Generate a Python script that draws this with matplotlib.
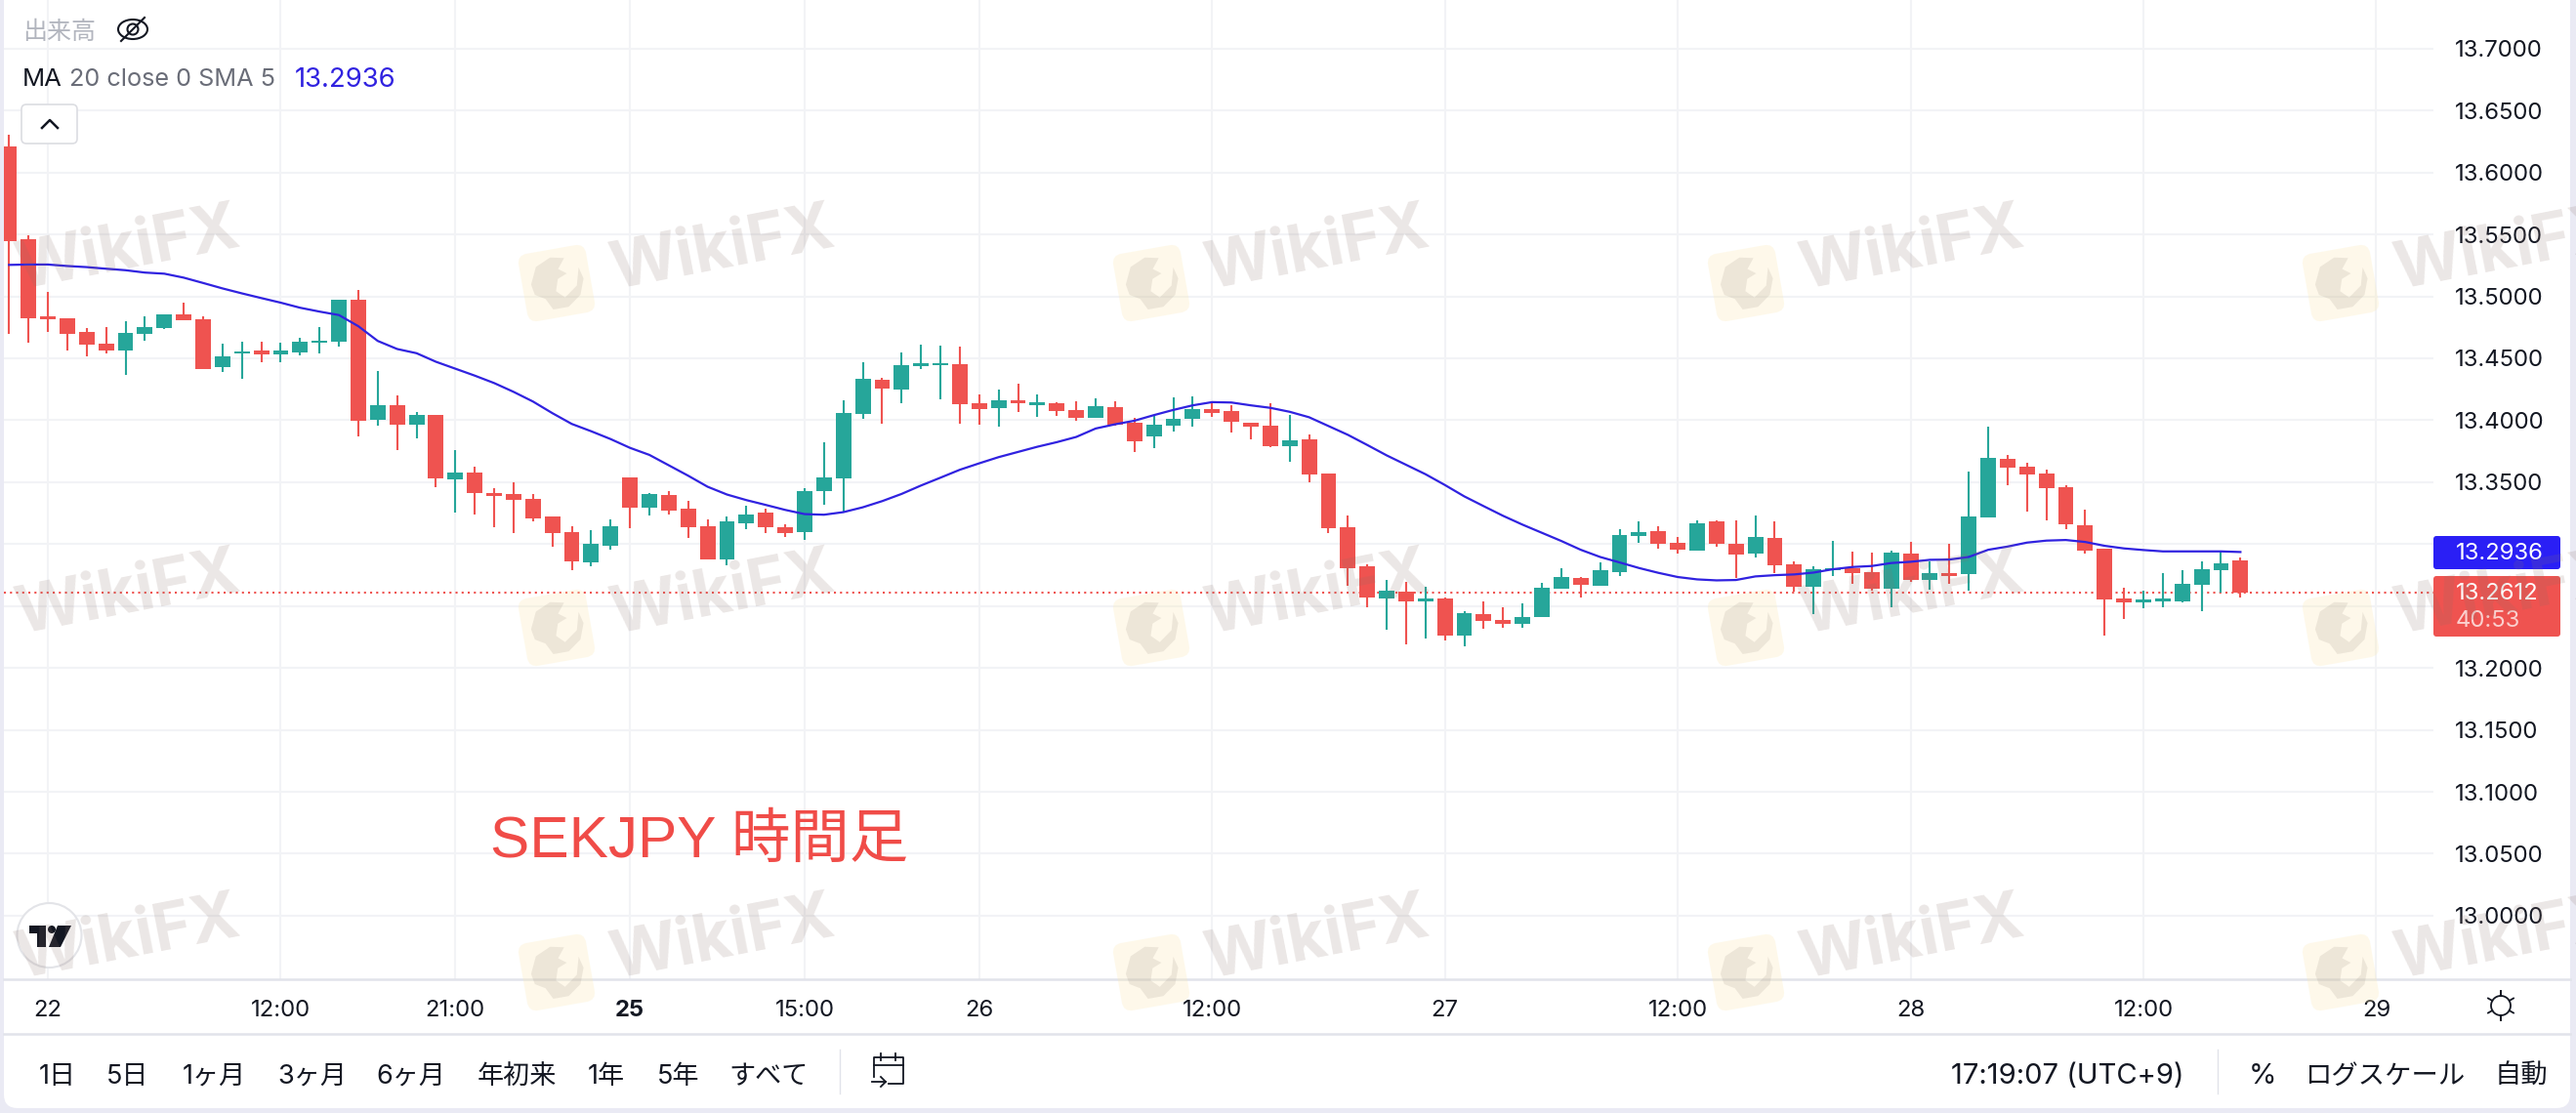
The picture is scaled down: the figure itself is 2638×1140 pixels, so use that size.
import matplotlib
matplotlib.use("Agg")
import matplotlib.pyplot as plt
import numpy as np

from matplotlib.patches import Circle, Ellipse, FancyBboxPatch, Polygon, Rectangle
from matplotlib.transforms import Affine2D

plt.rcParams['font.family'] = ['Inter', 'Noto Sans CJK JP', 'DejaVu Sans']

# Hourly candles, one value per bar
opens = [13.6214, 13.5460, 13.4840, 13.4824, 13.4712, 13.4618, 13.4559, 13.4700, 13.4746, 13.4852,
         13.4815, 13.4425, 13.4537, 13.4559, 13.4531, 13.4547, 13.4628, 13.4634, 13.4974, 13.4004,
         13.4120, 13.3967, 13.4039, 13.3524, 13.3577, 13.3412, 13.3403, 13.3365, 13.3222, 13.3097,
         13.2851, 13.2988, 13.3539, 13.3290, 13.3397, 13.3287, 13.3145, 13.2880, 13.3171, 13.3255,
         13.3137, 13.3100, 13.3424, 13.3534, 13.4054, 13.4325, 13.4251, 13.4440, 13.4448, 13.4453,
         13.4138, 13.4099, 13.4162, 13.4125, 13.4138, 13.4083, 13.4020, 13.4107, 13.3981, 13.3870,
         13.3957, 13.4012, 13.4091, 13.4075, 13.3981, 13.3955, 13.3790, 13.3845, 13.3569, 13.3136,
         13.2820, 13.2560, 13.2615, 13.2537, 13.2560, 13.2261, 13.2434, 13.2387, 13.2355, 13.2410,
         13.2639, 13.2726, 13.2663, 13.2773, 13.3065, 13.3104, 13.3009, 13.2946, 13.3183, 13.3002,
         13.2923, 13.3049, 13.2836, 13.2655, 13.2789, 13.2805, 13.2773, 13.2639, 13.2925, 13.2713,
         13.2768, 13.2760, 13.3217, 13.3690, 13.3627, 13.3572, 13.3461, 13.3154, 13.2965, 13.2563,
         13.2531, 13.2539, 13.2539, 13.2673, 13.2791, 13.2870]
highs = [13.6302, 13.5491, 13.5039, 13.4824, 13.4743, 13.4749, 13.4799, 13.4837, 13.4858, 13.4946,
         13.4837, 13.4618, 13.4637, 13.4637, 13.4622, 13.4665, 13.4749, 13.4974, 13.5055, 13.4400,
         13.4198, 13.4064, 13.4039, 13.3755, 13.3621, 13.3450, 13.3496, 13.3403, 13.3222, 13.3147,
         13.3116, 13.3203, 13.3539, 13.3413, 13.3429, 13.3347, 13.3198, 13.3221, 13.3308, 13.3284,
         13.3158, 13.3452, 13.3820, 13.4162, 13.4469, 13.4341, 13.4548, 13.4611, 13.4603, 13.4595,
         13.4209, 13.4249, 13.4293, 13.4209, 13.4143, 13.4154, 13.4178, 13.4154, 13.4020, 13.4044,
         13.4185, 13.4193, 13.4136, 13.4122, 13.3981, 13.4134, 13.4042, 13.3882, 13.3569, 13.3228,
         13.2836, 13.2710, 13.2694, 13.2655, 13.2568, 13.2458, 13.2537, 13.2489, 13.2521, 13.2686,
         13.2805, 13.2734, 13.2852, 13.3120, 13.3183, 13.3143, 13.3057, 13.3191, 13.3191, 13.3191,
         13.3230, 13.3183, 13.2860, 13.2820, 13.3025, 13.2939, 13.2931, 13.2946, 13.3020, 13.2862,
         13.3004, 13.3587, 13.3950, 13.3721, 13.3658, 13.3603, 13.3477, 13.3280, 13.2965, 13.2649,
         13.2626, 13.2768, 13.2791, 13.2862, 13.2949, 13.2894]
lows = [13.4696, 13.4625, 13.4712, 13.4562, 13.4519, 13.4541, 13.4369, 13.4643, 13.4737, 13.4809,
        13.4416, 13.4391, 13.4338, 13.4472, 13.4472, 13.4525, 13.4541, 13.4597, 13.3870, 13.3958,
        13.3755, 13.3852, 13.3459, 13.3256, 13.3241, 13.3138, 13.3091, 13.3185, 13.2982, 13.2786,
        13.2820, 13.2954, 13.3132, 13.3234, 13.3242, 13.3053, 13.2880, 13.2827, 13.3124, 13.3092,
        13.3061, 13.3037, 13.3321, 13.3255, 13.4015, 13.3973, 13.4141, 13.4414, 13.4170, 13.3973,
        13.3965, 13.3949, 13.4070, 13.4028, 13.4036, 13.3996, 13.4020, 13.3957, 13.3744, 13.3776,
        13.3910, 13.3949, 13.4028, 13.3902, 13.3847, 13.3782, 13.3666, 13.3498, 13.3088, 13.2663,
        13.2489, 13.2308, 13.2190, 13.2237, 13.2221, 13.2174, 13.2316, 13.2324, 13.2324, 13.2410,
        13.2639, 13.2568, 13.2663, 13.2741, 13.3009, 13.2962, 13.2923, 13.2946, 13.2978, 13.2726,
        13.2891, 13.2765, 13.2615, 13.2434, 13.2741, 13.2678, 13.2623, 13.2489, 13.2692, 13.2634,
        13.2681, 13.2626, 13.3217, 13.3477, 13.3264, 13.3193, 13.3122, 13.2925, 13.2263, 13.2397,
        13.2484, 13.2492, 13.2531, 13.2460, 13.2610, 13.2571]
closes = [13.5448, 13.4824, 13.4818, 13.4693, 13.4612, 13.4559, 13.4706, 13.4749, 13.4852, 13.4809,
          13.4416, 13.4512, 13.4556, 13.4531, 13.4562, 13.4631, 13.4640, 13.4974, 13.3998, 13.4120,
          13.3967, 13.4039, 13.3531, 13.3577, 13.3415, 13.3390, 13.3353, 13.3210, 13.3091, 13.2863,
          13.3001, 13.3144, 13.3290, 13.3405, 13.3274, 13.3140, 13.2880, 13.3184, 13.3240, 13.3140,
          13.3090, 13.3429, 13.3539, 13.4059, 13.4335, 13.4259, 13.4446, 13.4461, 13.4464, 13.4133,
          13.4091, 13.4162, 13.4138, 13.4143, 13.4075, 13.4020, 13.4115, 13.3965, 13.3831, 13.3965,
          13.4012, 13.4091, 13.4059, 13.3988, 13.3949, 13.3790, 13.3837, 13.3561, 13.3128, 13.2805,
          13.2568, 13.2623, 13.2537, 13.2560, 13.2261, 13.2442, 13.2379, 13.2355, 13.2410, 13.2647,
          13.2734, 13.2671, 13.2789, 13.3073, 13.3096, 13.3002, 13.2954, 13.3167, 13.3002, 13.2915,
          13.3057, 13.2828, 13.2655, 13.2797, 13.2805, 13.2765, 13.2639, 13.2931, 13.2710, 13.2768,
          13.2744, 13.3225, 13.3698, 13.3619, 13.3564, 13.3453, 13.3162, 13.2949, 13.2555, 13.2531,
          13.2555, 13.2563, 13.2681, 13.2799, 13.2847, 13.2612]
ma_values = [13.5254, 13.5257, 13.5257, 13.5245, 13.5236, 13.5223, 13.5211, 13.5192, 13.5183, 13.5151,
             13.5108, 13.5064, 13.5024, 13.4986, 13.4949, 13.4908, 13.4877, 13.4849, 13.4759, 13.4640,
             13.4575, 13.4541, 13.4472, 13.4416, 13.4360, 13.4300, 13.4229, 13.4151, 13.4057, 13.3970,
             13.3911, 13.3848, 13.3777, 13.3720, 13.3636, 13.3552, 13.3463, 13.3400, 13.3355, 13.3316,
             13.3276, 13.3242, 13.3237, 13.3258, 13.3297, 13.3347, 13.3405, 13.3473, 13.3536, 13.3600,
             13.3652, 13.3702, 13.3744, 13.3786, 13.3823, 13.3865, 13.3933, 13.3967, 13.3996, 13.4041,
             13.4083, 13.4120, 13.4146, 13.4143, 13.4120, 13.4100, 13.4068, 13.4024, 13.3953, 13.3882,
             13.3800, 13.3716, 13.3640, 13.3564, 13.3477, 13.3385, 13.3306, 13.3228, 13.3157, 13.3091,
             13.3025, 13.2954, 13.2896, 13.2852, 13.2807, 13.2768, 13.2734, 13.2715, 13.2707, 13.2710,
             13.2739, 13.2749, 13.2755, 13.2770, 13.2797, 13.2815, 13.2823, 13.2847, 13.2857, 13.2873,
             13.2875, 13.2896, 13.2954, 13.2980, 13.3012, 13.3028, 13.3033, 13.3017, 13.2986, 13.2965,
             13.2952, 13.2941, 13.2941, 13.2941, 13.2941, 13.2936]

price_ticks = [13.0, 13.05, 13.1, 13.15, 13.2, 13.25, 13.3, 13.35, 13.4, 13.45, 13.5, 13.55, 13.6, 13.65, 13.7]
time_tick_bars = [2, 14, 23, 32, 41, 50, 62, 74, 86, 98, 110, 122]
time_tick_labels = ['22', '12:00', '21:00', '25', '15:00', '26', '12:00', '27', '12:00', '28', '12:00', '29']
last_price = 13.2612
ma_last = 13.2936

range_labels = ['1日', '5日', '1ヶ月', '3ヶ月', '6ヶ月', '年初来', '1年', '5年', 'すべて']
range_label_x = [59, 131, 219, 320, 421, 529, 621, 695, 787]

RED = '#ef5350'
GREEN = '#26a69a'
BLUE = '#3022e0'
GRID = '#f2f3f6'
LINE = '#e1e3ea'
INK = '#131722'

W, H = 2638, 1140
fig = plt.figure(figsize=(W / 100, H / 100), dpi=100, facecolor='#eaeaf4')

# Pixel space layer under everything: the white card
back = fig.add_axes([0, 0, 1, 1], zorder=0)
back.set_xlim(0, W)
back.set_ylim(H, 0)
back.axis('off')
back.add_patch(FancyBboxPatch((14, -30), 2608, 1155, boxstyle='round,pad=10,rounding_size=14',
                              fc='white', ec='none'))

# Chart pane, limits chosen so that bar i sits at 9.3 + 19.87 i px
px_left, px_right, px_bottom = 4, 2492, 1003
ax = fig.add_axes([px_left / W, 1 - px_bottom / H, (px_right - px_left) / W, px_bottom / H], zorder=1)
ax.patch.set_alpha(0)
ax.set_xlim((px_left - 9.3) / 19.87, (px_right - 9.3) / 19.87)
ax.set_ylim(13.7 - (px_bottom - 49.8) / 1268.7, 13.7 + 49.8 / 1268.7)
for spine in ax.spines.values():
    spine.set_visible(False)

ax.set_axisbelow(True)
ax.grid(True, color=GRID, linewidth=1.5)
ax.yaxis.tick_right()
ax.set_yticks(price_ticks)
ax.set_yticklabels([f'{p:.4f}' for p in price_ticks], color=INK, fontsize=17.2)
ax.set_xticks(time_tick_bars)
ax.set_xticklabels(time_tick_labels, color=INK, fontsize=17.2)
ax.get_xticklabels()[3].set_fontweight('bold')
ax.tick_params(axis='y', length=0, pad=16)
ax.tick_params(axis='x', length=0, pad=15)

# Candles
bars = np.arange(len(opens))
o, h, l, c = map(np.array, (opens, highs, lows, closes))
colors = [GREEN if up else RED for up in c >= o]
ax.vlines(bars, l, h, colors=colors, linewidth=1.5, zorder=3)
ax.bar(bars, np.abs(c - o), bottom=np.minimum(o, c), width=0.8, color=colors, linewidth=0, zorder=3)
ax.plot(bars, ma_values, color=BLUE, linewidth=1.6, zorder=4)
ax.axhline(last_price, color=RED, linewidth=1.5, linestyle=(0, (1, 2)), zorder=2)

# Pixel space layer for the toolbar and labels
ui = fig.add_axes([0, 0, 1, 1], zorder=2)
ui.set_xlim(0, W)
ui.set_ylim(H, 0)
ui.axis('off')

ui.plot([4, 2632], [1003, 1003], color=LINE, linewidth=1.8)
ui.plot([4, 2632], [1059, 1059], color=LINE, linewidth=1.8)
ui.plot([860, 860], [1075, 1120], color=LINE, linewidth=1)
ui.plot([2271, 2271], [1075, 1120], color=LINE, linewidth=1)

# Legend block, top left
ui.text(23, 33, '出来高', fontsize=18, color='#b2b5be', va='center')
ui.add_patch(Ellipse((136, 30), 30, 20, fc='none', ec=INK, lw=1.5))
ui.add_patch(Circle((136, 30), 5.5, fc='none', ec=INK, lw=1.5))
ui.plot([124, 148], [42, 18], color=INK, linewidth=1.5)
ui.text(23, 82, 'MA', fontsize=18.5, color=INK, va='center')
ui.text(71, 82, '20 close 0 SMA 5', fontsize=18.2, color='#6a6d78', va='center')
ui.text(302, 82, f'{ma_last:.4f}', fontsize=19.8, color=BLUE, va='center')
ui.add_patch(FancyBboxPatch((26, 111), 49, 32, boxstyle='round,pad=4,rounding_size=5',
                            fc='white', ec='#dcdde2', lw=1.2))
ui.plot([43, 51, 59], [131, 123, 131], color=INK, linewidth=1.8)

# Last value tags on the price scale
ui.add_patch(FancyBboxPatch((2492, 549), 130, 34, boxstyle='round,pad=0,rounding_size=3',
                            fc='#2a1ff5', ec='none'))
ui.text(2515, 567, f'{ma_last:.4f}', fontsize=17.2, color='white', va='center')
ui.add_patch(FancyBboxPatch((2492, 590), 130, 62, boxstyle='round,pad=0,rounding_size=3',
                            fc=RED, ec='none'))
ui.text(2515, 608, f'{last_price:.4f}', fontsize=17.2, color='white', va='center')
ui.text(2515, 636, '40:53', fontsize=17.2, color='#fbd0ce', va='center')

# Red note on the chart
ui.text(502, 878, 'SEKJPY 時間足', fontsize=43.5, color='#f04c48', va='baseline',
        family=['Liberation Sans', 'Noto Sans CJK JP'])

# TradingView badge
ui.add_patch(Circle((50.5, 958), 33, fc='white', ec='#e3e4e8', lw=1.5))
ui.add_patch(Polygon([(30, 948), (47, 948), (47, 970), (38, 970), (38, 956), (30, 956)], fc=INK, ec='none'))
ui.add_patch(Circle((53, 952), 4, fc=INK, ec='none'))
ui.add_patch(Polygon([(59, 948), (73, 948), (62, 970), (50, 970)], fc=INK, ec='none'))

# Time scale gear and range bar
ui.add_patch(Circle((2561, 1030), 10, fc='none', ec=INK, lw=1.3))
for ang in np.arange(0, 360, 60) + 30:
    dx, dy = np.cos(np.radians(ang)), np.sin(np.radians(ang))
    ui.plot([2561 + 10 * dx, 2561 + 15 * dx], [1030 + 10 * dy, 1030 + 15 * dy], color=INK, linewidth=1.3)
ui.plot([2561, 2561], [1015, 1020], color=INK, linewidth=1.3)
ui.plot([2561, 2561], [1040, 1045], color=INK, linewidth=1.3)

for label, x in zip(range_labels, range_label_x):
    ui.text(x, 1103, label, fontsize=19.5, color=INK, ha='center', va='center')

ui.plot([895, 895, 925, 925, 910], [1103, 1083, 1083, 1110, 1110], color=INK, linewidth=1.3)
ui.plot([895, 925], [1091, 1091], color=INK, linewidth=1.3)
ui.plot([902, 902], [1079, 1086], color=INK, linewidth=1.3)
ui.plot([917, 917], [1079, 1086], color=INK, linewidth=1.3)
ui.plot([893, 907], [1108, 1108], color=INK, linewidth=1.3)
ui.plot([902, 907, 902], [1103, 1108, 1113], color=INK, linewidth=1.3)

ui.text(2237, 1103, '17:19:07 (UTC+9)', fontsize=21, color=INK, ha='right', va='center')
ui.text(2317, 1103, '%', fontsize=21, color=INK, ha='center', va='center')
ui.text(2360, 1103, 'ログスケール', fontsize=19.7, color=INK, ha='left', va='center')
ui.text(2555, 1103, '自動', fontsize=19.7, color=INK, ha='left', va='center')

# Watermark, over everything
mark = fig.add_axes([0, 0, 1, 1], zorder=3)
mark.set_xlim(0, W)
mark.set_ylim(H, 0)
mark.axis('off')
eagle = np.array([(-26, -3), (-18, -20), (-2, -27), (12, -24), (4, -14), (12, -8), (2, -4), (-2, 8), (6, 16),
                  (20, 6), (25, -12), (28, 0), (22, 16), (8, 26), (-8, 26), (-14, 14), (-24, 8)])
for row in range(3):
    for col in range(5):
        tx, ty = 131 + 609 * col, 257 + 353 * row
        mark.text(tx, ty, 'WikiFX', fontsize=48, fontweight='bold', color='#8a7068', alpha=0.17,
                  rotation=11, rotation_mode='anchor', ha='center', va='center', family='Inter')
        lx, ly = tx - 170, ty + 33
        if lx < -30:
            continue
        tilt = Affine2D().rotate_deg_around(lx, ly, -10) + mark.transData
        mark.add_patch(FancyBboxPatch((lx - 30, ly - 30), 60, 60, boxstyle='round,pad=5,rounding_size=10',
                                      fc='#fce9b4', ec='none', alpha=0.28, transform=tilt))
        mark.add_patch(Polygon(eagle + (lx, ly), fc='#8a7a70', ec='none', alpha=0.14, transform=tilt))

fig.savefig('out.png', dpi=100, facecolor=fig.get_facecolor())
